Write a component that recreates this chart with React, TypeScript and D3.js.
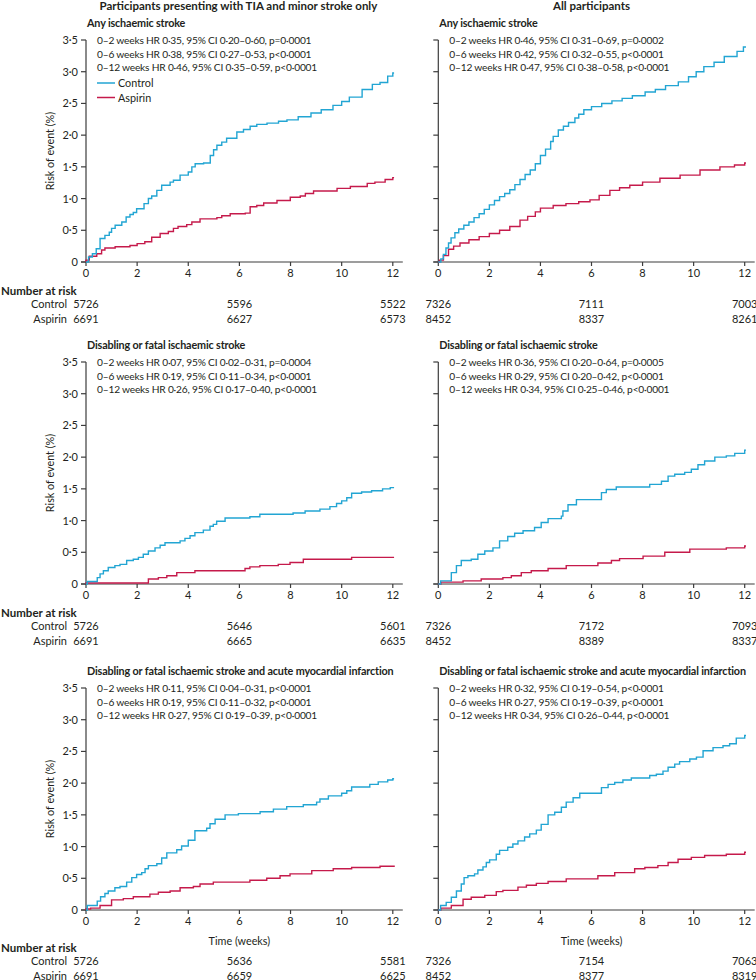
import React from 'react';
import * as d3 from 'd3';

const weekTicks = [0, 2, 4, 6, 8, 10, 12];
const riskTicks = [0, 0.5, 1, 1.5, 2, 2.5, 3, 3.5];
const riskWeeks = [0, 6, 12];

const columnTitles = ['Participants presenting with TIA and minor stroke only', 'All participants'];
const outcomeTitles = [
    'Any ischaemic stroke',
    'Disabling or fatal ischaemic stroke',
    'Disabling or fatal ischaemic stroke and acute myocardial infarction',
];

const hrTextTia = [
    ['0–2 weeks HR 0·35, 95% CI 0·20–0·60, p=0·0001', '0–6 weeks HR 0·38, 95% CI 0·27–0·53, p<0·0001', '0–12 weeks HR 0·46, 95% CI 0·35–0·59, p<0·0001'],
    ['0–2 weeks HR 0·07, 95% CI 0·02–0·31, p=0·0004', '0–6 weeks HR 0·19, 95% CI 0·11–0·34, p<0·0001', '0–12 weeks HR 0·26, 95% CI 0·17–0·40, p<0·0001'],
    ['0–2 weeks HR 0·11, 95% CI 0·04–0·31, p<0·0001', '0–6 weeks HR 0·19, 95% CI 0·11–0·32, p<0·0001', '0–12 weeks HR 0·27, 95% CI 0·19–0·39, p<0·0001'],
];
const hrTextAll = [
    ['0–2 weeks HR 0·46, 95% CI 0·31–0·69, p=0·0002', '0–6 weeks HR 0·42, 95% CI 0·32–0·55, p<0·0001', '0–12 weeks HR 0·47, 95% CI 0·38–0·58, p<0·0001'],
    ['0–2 weeks HR 0·36, 95% CI 0·20–0·64, p=0·0005', '0–6 weeks HR 0·29, 95% CI 0·20–0·42, p<0·0001', '0–12 weeks HR 0·34, 95% CI 0·25–0·46, p<0·0001'],
    ['0–2 weeks HR 0·32, 95% CI 0·19–0·54, p<0·0001', '0–6 weeks HR 0·27, 95% CI 0·19–0·39, p<0·0001', '0–12 weeks HR 0·34, 95% CI 0·26–0·44, p<0·0001'],
];

const atRiskControlTia = [[5726, 5596, 5522], [5726, 5646, 5601], [5726, 5636, 5581]];
const atRiskAspirinTia = [[6691, 6627, 6573], [6691, 6665, 6635], [6691, 6659, 6625]];
const atRiskControlAll = [[7326, 7111, 7003], [7326, 7172, 7093], [7326, 7154, 7063]];
const atRiskAspirinAll = [[8452, 8337, 8261], [8452, 8389, 8337], [8452, 8377, 8319]];

// [week, cumulative risk %] step points
const tiaAnyControl = [[0.1, 0.08], [0.25, 0.13], [0.4, 0.21], [0.55, 0.37], [0.74, 0.42], [0.91, 0.47], [1.0, 0.53], [1.14, 0.58], [1.4, 0.63], [1.57, 0.71], [1.72, 0.75], [1.85, 0.78], [1.98, 0.84], [2.27, 0.92], [2.44, 1.0], [2.57, 1.04], [2.77, 1.13], [2.96, 1.21], [3.29, 1.26], [3.42, 1.29], [3.68, 1.37], [4.0, 1.42], [4.14, 1.5], [4.27, 1.55], [4.6, 1.56], [4.86, 1.68], [4.99, 1.77], [5.12, 1.84], [5.31, 1.89], [5.5, 1.95], [5.9, 2.05], [6.16, 2.09], [6.42, 2.14], [6.68, 2.17], [7.08, 2.19], [7.53, 2.22], [7.86, 2.24], [8.3, 2.29], [8.8, 2.35], [9.2, 2.4], [9.66, 2.47], [10.0, 2.53], [10.3, 2.6], [10.8, 2.72], [11.2, 2.8], [11.5, 2.83], [11.8, 2.93], [12.0, 2.98], [12.05, 2.98]];
const tiaAnyAspirin = [[0.0, 0.03], [0.13, 0.09], [0.42, 0.13], [0.61, 0.19], [0.74, 0.22], [1.14, 0.24], [1.72, 0.26], [2.0, 0.29], [2.3, 0.32], [2.57, 0.39], [2.9, 0.45], [3.22, 0.48], [3.42, 0.53], [3.6, 0.56], [3.94, 0.59], [4.14, 0.63], [4.46, 0.68], [5.12, 0.7], [5.31, 0.73], [5.64, 0.76], [6.23, 0.77], [6.42, 0.87], [6.68, 0.89], [6.95, 0.93], [7.47, 0.97], [7.99, 1.02], [8.38, 1.04], [8.58, 1.08], [8.9, 1.12], [9.82, 1.16], [10.34, 1.19], [11.0, 1.24], [11.3, 1.26], [11.7, 1.3], [12.0, 1.33], [12.05, 1.33]];
const tiaDisablingControl = [[0.05, 0.04], [0.44, 0.1], [0.55, 0.16], [0.68, 0.21], [0.87, 0.26], [1.13, 0.29], [1.33, 0.31], [1.59, 0.37], [1.85, 0.39], [2.05, 0.42], [2.24, 0.47], [2.44, 0.52], [2.7, 0.57], [2.9, 0.61], [3.09, 0.65], [3.68, 0.68], [3.87, 0.72], [4.07, 0.76], [4.26, 0.81], [4.59, 0.85], [4.85, 0.91], [4.98, 0.94], [5.11, 0.99], [5.44, 1.04], [6.41, 1.06], [6.8, 1.1], [8.1, 1.12], [8.57, 1.15], [9.15, 1.18], [9.54, 1.22], [9.8, 1.27], [10.0, 1.31], [10.2, 1.36], [10.39, 1.43], [10.78, 1.45], [11.17, 1.47], [11.6, 1.5], [11.9, 1.52], [12.05, 1.52]];
const tiaDisablingAspirin = [[0.0, 0.015], [2.44, 0.08], [2.83, 0.1], [3.16, 0.13], [3.55, 0.18], [4.26, 0.21], [6.22, 0.245], [6.41, 0.27], [6.8, 0.29], [7.52, 0.31], [7.98, 0.34], [8.5, 0.39], [10.39, 0.42], [12.05, 0.42]];
const tiaMiControl = [[0.05, 0.07], [0.44, 0.14], [0.57, 0.21], [0.74, 0.26], [0.87, 0.3], [1.13, 0.35], [1.33, 0.37], [1.59, 0.44], [1.79, 0.51], [1.98, 0.56], [2.18, 0.59], [2.31, 0.65], [2.44, 0.7], [2.77, 0.73], [2.96, 0.82], [3.16, 0.9], [3.55, 0.95], [3.74, 1.01], [4.0, 1.1], [4.26, 1.25], [4.72, 1.29], [4.85, 1.36], [5.05, 1.43], [5.44, 1.5], [5.96, 1.52], [6.81, 1.55], [7.33, 1.59], [7.85, 1.63], [8.5, 1.66], [9.02, 1.7], [9.15, 1.75], [9.48, 1.8], [10.0, 1.84], [10.2, 1.88], [10.39, 1.94], [11.1, 1.98], [11.43, 2.02], [11.8, 2.05], [12.0, 2.07], [12.05, 2.07]];
const tiaMiAspirin = [[0.0, 0.015], [0.18, 0.03], [0.55, 0.07], [1.0, 0.16], [1.46, 0.18], [1.85, 0.21], [2.5, 0.25], [2.83, 0.28], [3.29, 0.3], [3.68, 0.35], [4.2, 0.37], [4.46, 0.41], [4.98, 0.44], [6.41, 0.47], [7.07, 0.5], [7.59, 0.54], [7.98, 0.57], [8.83, 0.62], [9.67, 0.65], [10.39, 0.67], [11.5, 0.69], [12.05, 0.7]];

const allAnyControl = [[0.1, 0.05], [0.2, 0.12], [0.3, 0.22], [0.4, 0.3], [0.5, 0.38], [0.65, 0.46], [0.8, 0.52], [1.0, 0.58], [1.2, 0.63], [1.4, 0.7], [1.6, 0.76], [1.8, 0.83], [2.0, 0.9], [2.2, 0.97], [2.4, 1.03], [2.6, 1.08], [2.8, 1.14], [3.0, 1.22], [3.2, 1.3], [3.4, 1.38], [3.6, 1.45], [3.8, 1.55], [4.0, 1.68], [4.2, 1.78], [4.4, 1.9], [4.5, 1.98], [4.7, 2.08], [4.9, 2.14], [5.1, 2.2], [5.35, 2.27], [5.5, 2.33], [5.7, 2.4], [6.0, 2.45], [6.4, 2.5], [6.8, 2.54], [7.2, 2.58], [7.6, 2.62], [8.1, 2.68], [8.5, 2.72], [8.9, 2.78], [9.4, 2.84], [9.8, 2.92], [10.1, 3.0], [10.4, 3.08], [10.8, 3.15], [11.2, 3.24], [11.7, 3.32], [11.95, 3.39], [12.05, 3.39]];
const allAnyAspirin = [[0.05, 0.03], [0.2, 0.1], [0.4, 0.2], [0.6, 0.25], [0.85, 0.3], [1.2, 0.35], [1.6, 0.4], [2.0, 0.45], [2.4, 0.5], [2.8, 0.56], [3.2, 0.66], [3.5, 0.72], [3.8, 0.79], [4.0, 0.85], [4.5, 0.89], [5.0, 0.92], [5.5, 0.95], [5.94, 0.98], [6.3, 1.05], [6.72, 1.13], [7.1, 1.17], [7.5, 1.21], [8.0, 1.26], [8.68, 1.32], [9.47, 1.37], [10.25, 1.45], [11.03, 1.5], [11.6, 1.53], [12.0, 1.56], [12.05, 1.56]];
const allDisablingControl = [[0.09, 0.05], [0.51, 0.18], [0.71, 0.29], [0.9, 0.37], [1.29, 0.39], [1.55, 0.47], [1.82, 0.52], [2.14, 0.57], [2.4, 0.68], [2.72, 0.75], [2.99, 0.8], [3.32, 0.84], [3.77, 0.89], [4.03, 0.97], [4.3, 1.03], [4.82, 1.07], [4.88, 1.15], [5.08, 1.25], [5.41, 1.33], [6.39, 1.44], [6.58, 1.49], [6.97, 1.53], [8.28, 1.57], [8.74, 1.62], [9.0, 1.7], [9.26, 1.73], [9.65, 1.76], [9.91, 1.81], [10.17, 1.88], [10.43, 1.94], [10.83, 2.0], [11.28, 2.02], [11.61, 2.06], [12.0, 2.11], [12.05, 2.11]];
const allDisablingAspirin = [[0.1, 0.03], [0.97, 0.05], [1.68, 0.08], [2.53, 0.1], [2.86, 0.13], [3.25, 0.18], [3.64, 0.21], [4.3, 0.245], [5.01, 0.29], [6.25, 0.33], [6.78, 0.37], [7.1, 0.4], [8.02, 0.44], [8.87, 0.5], [9.85, 0.55], [11.28, 0.57], [12.0, 0.6], [12.05, 0.6]];
const allMiControl = [[0.09, 0.07], [0.31, 0.12], [0.51, 0.2], [0.71, 0.3], [0.9, 0.41], [1.01, 0.51], [1.16, 0.54], [1.42, 0.57], [1.55, 0.63], [1.75, 0.68], [1.88, 0.75], [2.01, 0.79], [2.27, 0.88], [2.4, 0.94], [2.72, 0.99], [2.92, 1.04], [3.12, 1.09], [3.38, 1.15], [3.58, 1.2], [3.84, 1.26], [4.03, 1.35], [4.3, 1.5], [4.56, 1.54], [4.82, 1.62], [5.01, 1.7], [5.28, 1.77], [5.54, 1.84], [6.39, 1.93], [6.65, 1.98], [6.91, 2.01], [7.23, 2.05], [7.56, 2.08], [8.28, 2.12], [8.54, 2.14], [8.8, 2.19], [9.0, 2.25], [9.26, 2.3], [9.45, 2.34], [9.85, 2.38], [10.11, 2.41], [10.37, 2.51], [10.76, 2.56], [11.15, 2.59], [11.41, 2.62], [11.67, 2.71], [12.0, 2.75], [12.05, 2.75]];
const allMiAspirin = [[0.1, 0.03], [0.51, 0.07], [0.97, 0.17], [1.29, 0.2], [1.82, 0.23], [2.27, 0.29], [2.53, 0.31], [3.12, 0.36], [3.45, 0.39], [3.84, 0.42], [4.3, 0.45], [5.01, 0.49], [6.25, 0.54], [6.91, 0.59], [7.69, 0.65], [8.09, 0.67], [8.6, 0.7], [9.0, 0.75], [9.39, 0.8], [9.91, 0.83], [10.43, 0.86], [11.28, 0.88], [12.0, 0.91], [12.05, 0.91]];

const controlCurves = [[tiaAnyControl, tiaDisablingControl, tiaMiControl], [allAnyControl, allDisablingControl, allMiControl]];
const aspirinCurves = [[tiaAnyAspirin, tiaDisablingAspirin, tiaMiAspirin], [allAnyAspirin, allDisablingAspirin, allMiAspirin]];

const CONTROL = '#22a5d3';
const ASPIRIN = '#c51a4b';
const INK = '#231f20';
const AXIS = '#3c3c3c';
const FONT = 'Lato, "Open Sans", sans-serif';

const colRange = [[86, 392.8], [438.3, 744.7]];
const rowTop = [40, 362, 688];
const plotH = 222;

const fmtRisk = (v) => (v === 0 ? '0' : v.toFixed(1).replace('.', '·'));

const Panel = ({ col, row }) => {
    const top = rowTop[row];
    const zero = top + plotH;
    const x = d3.scaleLinear().domain([0, 12]).range(colRange[col]);
    const y = d3.scaleLinear().domain([0, 3.5]).range([zero, top]);
    const line = d3.line()
        .x((d) => x(d[0]))
        .y((d) => y(d[1]))
        .curve(d3.curveStepAfter);
    const x0 = colRange[col][0];
    const hr = col === 0 ? hrTextTia[row] : hrTextAll[row];
    const ctrl = col === 0 ? atRiskControlTia[row] : atRiskControlAll[row];
    const asp = col === 0 ? atRiskAspirinTia[row] : atRiskAspirinAll[row];
    const isLast = row === 2;
    const narY = zero + (isLast ? 42 : 33);

    return (
        <g>
            <text x={x0 + 1} y={top - 13} fontWeight="bold" fontSize={10.8} letterSpacing={-0.15}>{outcomeTitles[row]}</text>
            {hr.map((t, i) => (
                <text key={i} x={x0 + 11} y={top + 4 + i * 13.5} fontSize={10.2} letterSpacing={-0.2}>{t}</text>
            ))}
            {row === 0 && col === 0 && (
                <g>
                    {[['Control', CONTROL], ['Aspirin', ASPIRIN]].map(([label, c], i) => (
                        <g key={label}>
                            <line x1={x0 + 11} x2={x0 + 29} y1={top + 43 + i * 14.5} y2={top + 43 + i * 14.5} stroke={c} strokeWidth={1.5} />
                            <text x={x0 + 32} y={top + 47 + i * 14.5} fontSize={10.8}>{label}</text>
                        </g>
                    ))}
                </g>
            )}

            {/* y axis */}
            <line x1={x0} x2={x0} y1={top} y2={zero} stroke={AXIS} strokeWidth={1.2} />
            {riskTicks.map((v) => (
                <g key={v}>
                    <line x1={x0 - 5} x2={x0} y1={y(v)} y2={y(v)} stroke={AXIS} strokeWidth={1.2} />
                    {col === 0 && (
                        <text x={x0 - 8} y={y(v) + 4} textAnchor="end" fontSize={11}>{fmtRisk(v)}</text>
                    )}
                </g>
            ))}
            {col === 0 && (
                <text transform={`translate(50,${(top + zero) / 2}) rotate(-90)`} textAnchor="middle" dy="0.35em" fontSize={10.8}>Risk of event (%)</text>
            )}

            {/* x axis */}
            <line x1={x0 - 5} x2={colRange[col][1] + 10} y1={zero} y2={zero} stroke={AXIS} strokeWidth={1.2} />
            {weekTicks.map((w) => (
                <g key={w}>
                    <line x1={x(w)} x2={x(w)} y1={zero} y2={zero + 4} stroke={AXIS} strokeWidth={1.2} />
                    <text x={x(w)} y={zero + 15} textAnchor="middle" fontSize={11}>{w}</text>
                </g>
            ))}
            {isLast && (
                <text x={x(6)} y={zero + 35} textAnchor="middle" fontSize={10.8}>Time (weeks)</text>
            )}

            {/* curves */}
            <path d={line([[0, 0], ...aspirinCurves[col][row]])} fill="none" stroke={ASPIRIN} strokeWidth={1.4} />
            <path d={line([[0, 0], ...controlCurves[col][row]])} fill="none" stroke={CONTROL} strokeWidth={1.4} />

            {/* number at risk */}
            {col === 0 && (
                <g>
                    <text x={1} y={narY} fontWeight="bold" fontSize={11.5}>Number at risk</text>
                    <text x={67} y={narY + 13} textAnchor="end" fontSize={11}>Control</text>
                    <text x={67} y={narY + 27.5} textAnchor="end" fontSize={11}>Aspirin</text>
                </g>
            )}
            {riskWeeks.map((w, i) => (
                <g key={w}>
                    <text x={x(w)} y={narY + 13} textAnchor="middle" fontSize={11}>{ctrl[i]}</text>
                    <text x={x(w)} y={narY + 27.5} textAnchor="middle" fontSize={11}>{asp[i]}</text>
                </g>
            ))}
        </g>
    );
};

const App = () => {
    return (
        <svg width={756} height={980} style={{ position: 'absolute', left: 0, top: 0, background: '#fff' }}
            fontFamily={FONT} fill={INK}>
            {columnTitles.map((t, c) => (
                <text key={t} x={(colRange[c][0] + colRange[c][1]) / 2 - (c === 0 ? 1 : 0)} y={10} textAnchor="middle" fontWeight="bold" fontSize={11.5}>{t}</text>
            ))}
            {[0, 1].map((c) => [0, 1, 2].map((r) => <Panel key={`${c}-${r}`} col={c} row={r} />))}
        </svg>
    );
};

export default App;
